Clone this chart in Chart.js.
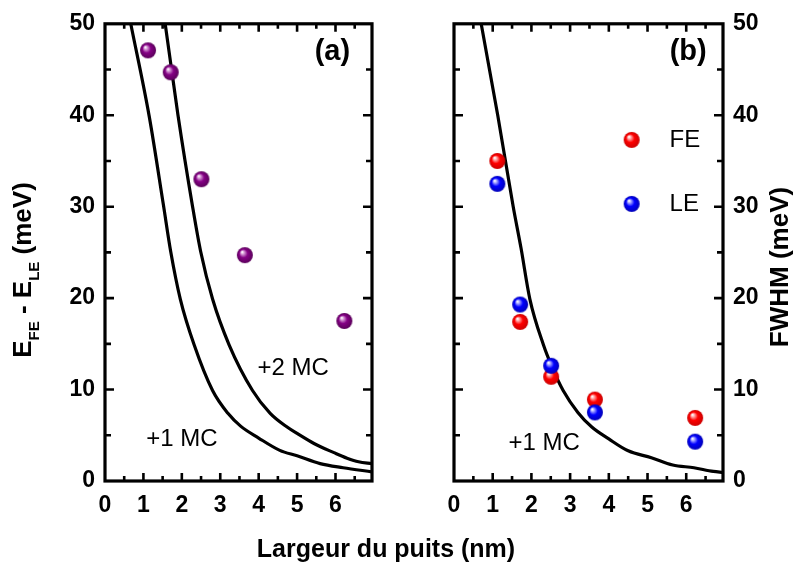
<!DOCTYPE html>
<html>
<head>
<meta charset="utf-8">
<script src="https://cdn.jsdelivr.net/npm/chart.js@4.4.1/dist/chart.umd.min.js"></script>
<style>
  html, body { margin: 0; padding: 0; background: #ffffff; }
  #wrap { position: relative; width: 795px; height: 568px; }
  canvas { position: absolute; left: 0; top: 0; }
</style>
</head>
<body>
<div id="wrap">
  <canvas id="cA" width="795" height="568"></canvas>
  <canvas id="cB" width="795" height="568"></canvas>
</div>
<script>
// ---------- data ----------
const xTicks = [0, 1, 2, 3, 4, 5, 6];
const yTicks = [0, 10, 20, 30, 40, 50];
const wellWidth = [1.12, 1.71, 2.51, 3.64, 6.23];          // nm
const deltaE = [47.1, 44.7, 33.0, 24.7, 17.5];             // E_FE - E_LE (meV)
const fwhmFE = [35.0, 17.4, 11.4, 8.9, 6.9];               // FWHM FE (meV)
const fwhmLE = [32.5, 19.3, 12.6, 7.5, 4.3];               // FWHM LE (meV)

const curve1MC_x = [0.55, 0.69, 1.15, 1.52, 1.71, 1.96, 2.32, 2.80, 3.20, 3.53, 4.00, 4.55, 5.00, 5.60, 6.20, 6.95];
const curve1MC_y = [52.5, 49.6, 39.9, 30.2, 25.1, 19.9, 14.9, 9.9, 7.4, 6.0, 4.7, 3.35, 2.75, 1.9, 1.45, 1.0];
const curve2MC_x = [1.50, 1.58, 1.90, 2.28, 2.49, 2.80, 3.23, 3.84, 4.30, 4.74, 5.00, 5.44, 5.96, 6.30, 6.60, 6.95];
const curve2MC_y = [51.8, 49.6, 40.0, 30.0, 25.1, 19.9, 14.9, 9.9, 7.4, 5.9, 5.2, 4.1, 3.1, 2.5, 2.1, 1.9];
const curveB_x = [0.55, 0.72, 1.13, 1.53, 1.73, 1.96, 2.31, 2.52, 2.82, 3.20, 3.56, 4.00, 4.50, 5.10, 5.65, 6.20, 6.70, 6.95];
const curveB_y = [53.2, 49.6, 40.0, 30.0, 25.5, 19.9, 14.9, 12.6, 9.9, 7.5, 5.9, 4.6, 3.3, 2.55, 1.75, 1.45, 1.05, 0.95];

const legendLabels = ['FE', 'LE'];

// ---------- helpers ----------
const FONT = '"Liberation Sans", Arial, Helvetica, sans-serif';
Chart.defaults.font.family = FONT;
Chart.defaults.color = '#000';

function sphere(base, light, dark, r) {
  const s = 2 * r + 2;
  const c = document.createElement('canvas');
  c.width = s; c.height = s;
  const g = c.getContext('2d');
  const cx = s / 2, cy = s / 2;
  const grad = g.createRadialGradient(cx - r * 0.35, cy - r * 0.4, r * 0.05, cx, cy, r);
  grad.addColorStop(0, '#ffffff');
  grad.addColorStop(0.16, light);
  grad.addColorStop(0.5, base);
  grad.addColorStop(1, dark);
  g.fillStyle = grad;
  g.beginPath(); g.arc(cx, cy, r, 0, Math.PI * 2); g.fill();
  return c;
}
const ballPurple = sphere('#850085', '#d9a0d9', '#5a005a', 8);
const ballRed = sphere('#ff0000', '#ffb0b0', '#cc0000', 8);
const ballBlue = sphere('#0000ff', '#b0b0ff', '#0000b8', 8);

function pts(xs, ys) { return xs.map((x, i) => ({ x: x, y: ys[i] })); }

function lineDs(xs, ys) {
  return {
    type: 'line', data: pts(xs, ys), borderColor: '#000', borderWidth: 3.2,
    pointRadius: 0, cubicInterpolationMode: 'monotone', fill: false
  };
}
function scatterDs(xs, ys, img) {
  return {
    type: 'scatter', data: pts(xs, ys), pointStyle: img, pointRadius: 8,
    pointHoverRadius: 8, showLine: false
  };
}

// frame + inward ticks + annotations
function framePlugin(extra) {
  return {
    id: 'frame',
    afterDraw(chart) {
      const ctx = chart.ctx;
      const a = chart.chartArea;
      const xs = chart.scales.x, ys = chart.scales.y;
      ctx.save();
      ctx.strokeStyle = '#000';
      ctx.lineWidth = 3.2;
      ctx.lineCap = 'butt';
      ctx.strokeRect(a.left, a.top, a.right - a.left, a.bottom - a.top);
      ctx.lineWidth = 2.6;
      ctx.beginPath();
      for (let v = 0.5; v < 7; v += 0.5) {
        const p = xs.getPixelForValue(v);
        const L = (Math.abs(v - Math.round(v)) < 1e-6) ? 8 : 5;
        ctx.moveTo(p, a.bottom); ctx.lineTo(p, a.bottom - L);
        ctx.moveTo(p, a.top); ctx.lineTo(p, a.top + L);
      }
      for (let v = 5; v < 50; v += 5) {
        const p = ys.getPixelForValue(v);
        const L = (v % 10 === 0) ? 9 : 6;
        ctx.moveTo(a.left, p); ctx.lineTo(a.left + L, p);
        ctx.moveTo(a.right, p); ctx.lineTo(a.right - L, p);
      }
      ctx.stroke();
      ctx.restore();
      extra(chart, ctx, xs, ys);
    }
  };
}

function txt(ctx, s, x, y, font, align) {
  ctx.font = font;
  ctx.textAlign = align || 'center';
  ctx.textBaseline = 'middle';
  ctx.fillStyle = '#000';
  ctx.fillText(s, x, y);
}

function fixedWidth(w) { return function (scale) { scale.width = w; }; }
function fixedHeight(h) { return function (scale) { scale.height = h; }; }
function setTicks(vals) { return function (scale) { scale.ticks = vals.map(v => ({ value: v })); }; }

function scalesFor(yPos, yWidth, showY) {
  return {
    x: {
      type: 'linear', min: 0, max: 6.95,
      grid: { display: false, drawTicks: false }, border: { display: false },
      ticks: { font: { size: 23, weight: 'bold' }, color: '#000', padding: 11, maxRotation: 0 },
      afterBuildTicks: setTicks(xTicks),
      afterFit: fixedHeight(87)
    },
    y: {
      type: 'linear', position: yPos, min: 0, max: 50,
      grid: { display: false, drawTicks: false }, border: { display: false },
      ticks: { display: showY, font: { size: 23, weight: 'bold' }, color: '#000', padding: 10 },
      afterBuildTicks: setTicks(yTicks),
      afterFit: fixedWidth(yWidth)
    }
  };
}

const common = {
  responsive: false, animation: false, devicePixelRatio: 1,
  plugins: { legend: { display: false }, tooltip: { enabled: false }, title: { display: false } },
  events: []
};

// ---------- panel (a) ----------
new Chart(document.getElementById('cA'), {
  data: {
    datasets: [
      scatterDs(wellWidth, deltaE, ballPurple),
      lineDs(curve1MC_x, curve1MC_y),
      lineDs(curve2MC_x, curve2MC_y)
    ]
  },
  options: Object.assign({}, common, {
    layout: { padding: { left: 0, top: 16, right: 423, bottom: 0 } },
    scales: scalesFor('left', 105, true)
  }),
  plugins: [framePlugin(function (chart, ctx, xs, ys) {
    txt(ctx, '(a)', xs.getPixelForValue(5.92), ys.getPixelForValue(46.9), 'bold 29px ' + FONT);
    txt(ctx, '+2 MC', xs.getPixelForValue(4.9), ys.getPixelForValue(12.3), '24px ' + FONT);
    txt(ctx, '+1 MC', xs.getPixelForValue(2.0), ys.getPixelForValue(4.6), '24px ' + FONT);
    // x axis title (shared)
    txt(ctx, 'Largeur du puits (nm)', 386, 550, 'bold 25px ' + FONT);
    // y axis title with subscripts
    ctx.save();
    ctx.translate(22, 270);
    ctx.rotate(-Math.PI / 2);
    ctx.fillStyle = '#000';
    ctx.textBaseline = 'alphabetic';
    const big = 'bold 26px ' + FONT, small = 'bold 15px ' + FONT;
    const parts = [['E', big, 0], ['FE', small, 8], [' - E', big, 0], ['LE', small, 8], [' (meV)', big, 0]];
    let total = 0;
    parts.forEach(p => { ctx.font = p[1]; total += ctx.measureText(p[0]).width; });
    let cx = -total / 2;
    parts.forEach(p => {
      ctx.font = p[1]; ctx.textAlign = 'left';
      ctx.fillText(p[0], cx, 9 + p[2]);
      cx += ctx.measureText(p[0]).width;
    });
    ctx.restore();
  })]
});

// ---------- panel (b) ----------
new Chart(document.getElementById('cB'), {
  data: {
    datasets: [
      scatterDs(wellWidth, fwhmLE, ballBlue),
      scatterDs(wellWidth, fwhmFE, ballRed),
      lineDs(curveB_x, curveB_y)
    ]
  },
  options: Object.assign({}, common, {
    layout: { padding: { left: 454, top: 16, right: 0, bottom: 0 } },
    scales: scalesFor('right', 72, true)
  }),
  plugins: [framePlugin(function (chart, ctx, xs, ys) {
    txt(ctx, '(b)', xs.getPixelForValue(6.05), ys.getPixelForValue(46.9), 'bold 29px ' + FONT);
    txt(ctx, '+1 MC', xs.getPixelForValue(2.33), ys.getPixelForValue(4.1), '24px ' + FONT);
    // legend
    const imgs = [ballRed, ballBlue];
    const ly = [37.3, 30.3];
    legendLabels.forEach((lab, i) => {
      const px = xs.getPixelForValue(4.59), py = ys.getPixelForValue(ly[i]);
      ctx.drawImage(imgs[i], px - imgs[i].width / 2, py - imgs[i].height / 2);
      txt(ctx, lab, xs.getPixelForValue(5.57), py, '24px ' + FONT, 'left');
    });
    // right y title
    ctx.save();
    ctx.translate(781, 267);
    ctx.rotate(-Math.PI / 2);
    txt(ctx, 'FWHM (meV)', 0, 0, 'bold 26px ' + FONT);
    ctx.restore();
  })]
});
</script>
</body>
</html>
